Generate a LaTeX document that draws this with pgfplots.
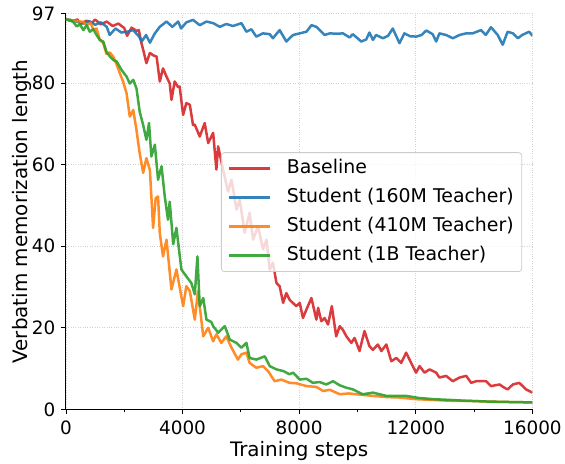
\documentclass[border=0pt]{standalone}
\usepackage{fontspec}
\setmainfont{DejaVu Sans}
\usepackage{pgfplots}
\pgfplotsset{compat=1.18}
\definecolor{tred}{HTML}{D62728}
\definecolor{tblue}{HTML}{1F77B4}
\definecolor{torange}{HTML}{FF7F0E}
\definecolor{tgreen}{HTML}{2CA02C}
\begin{document}
\begin{tikzpicture}
\begin{axis}[
  scale only axis, width=467bp, height=396bp,
  xmin=0, xmax=16000, ymin=0, ymax=97,
  axis x line*=bottom, axis y line*=left,
  axis line style={-, line width=0.9bp, black},
  xtick={0,4000,8000,12000,16000},
  minor xtick={2000,6000,10000,14000},
  ytick={0,20,40,60,80,97},
  scaled x ticks=false,
  /pgf/number format/1000 sep={},
  /pgf/number format/assume math mode=true,
  grid=major,
  major grid style={dotted, black!18, line width=0.8bp},
  tick align=outside, major tick length=5bp, minor tick length=3bp,
  tick style={black, line width=0.8bp},
  every tick label/.append style={font=\fontsize{18.5}{20}\selectfont},
  xticklabel style={yshift=-3bp},
  yticklabel style={xshift=-2bp},
  xlabel={Training steps},
  ylabel={Verbatim memorization length},
  label style={font=\fontsize{20}{24}\selectfont},
  xlabel style={at={(axis description cs:0.5,-0.105)}, anchor=center},
  ylabel style={at={(axis description cs:-0.094,0.5)}, anchor=center, rotate=0},
  legend cell align=left,
  legend image code/.code={\draw[#1, line width=2.5bp] (0bp,0bp) -- (41bp,0bp);},
  legend style={at={(0.978,0.65)}, anchor=north east,
    draw=black!20, line width=0.8bp, rounded corners=3bp,
    fill=white, fill opacity=0.8, text opacity=1, draw opacity=1,
    font=\fontsize{19}{19}\selectfont,
    inner xsep=6bp, inner ysep=5bp, row sep=7bp,
    nodes={inner sep=2bp, text height=14bp, text depth=4bp},
    /tikz/every odd column/.append style={column sep=14bp},
    /tikz/every even column/.append style={column sep=0bp}},
  every axis plot/.append style={line width=2.5bp, line join=round, draw opacity=0.9},
]
\addplot[tred] coordinates {
(0,95.6)(200,95.2)(400,95.6)(500,94.5)(700,95.3)(900,94.8)(1000,95.6)(1200,94.4)(1400,95.1)(1600,94.0)(1800,94.6)(2000,93.5)(2100,91.6)(2250,93.6)(2430,92.8)(2500,93.0)(2590,89.8)(2650,88.2)(2760,84.9)(2880,87.4)(3000,86.8)(3110,86.5)(3220,80.4)(3330,83.6)(3450,81.6)(3560,79.9)(3620,75.9)(3730,80.4)(3850,79.0)(3900,79.2)(4020,72.2)(4130,75.1)(4250,74.7)(4360,69.7)(4420,69.8)(4590,66.9)(4760,70.2)(4880,65.3)(5050,67.8)(5160,58.8)(5220,64.5)(5390,58.8)(5560,53.4)(5680,56.3)(5850,49.0)(5960,51.4)(6130,43.3)(6300,48.2)(6420,41.6)(6590,44.9)(6760,39.2)(6880,41.6)(6990,34.2)(7100,36.0)(7220,31.0)(7330,30.2)(7450,26.1)(7560,28.5)(7670,26.9)(7900,25.3)(8020,26.1)(8130,22.4)(8250,24.5)(8420,27.3)(8590,22.0)(8650,24.9)(8760,21.6)(8870,22.4)(8990,20.8)(9120,25.3)(9270,17.9)(9390,20.4)(9500,19.5)(9620,17.9)(9790,16.3)(9900,17.5)(10070,14.3)(10240,19.2)(10410,15.5)(10530,14.6)(10700,15.9)(10820,14.3)(10990,15.9)(11160,11.8)(11330,12.6)(11500,11.4)(11670,13.9)(11840,11.4)(12010,9.0)(12130,10.6)(12300,9.0)(12470,9.8)(12700,9.0)(12810,7.8)(13040,8.2)(13270,6.9)(13500,7.8)(13730,8.2)(13900,6.5)(14070,6.9)(14410,6.9)(14580,5.7)(14870,6.1)(15040,5.3)(15150,4.9)(15330,6.1)(15550,6.5)(15780,4.9)(16000,4.1)
};
\addlegendentry{Baseline}
\addplot[tblue] coordinates {
(0,95.6)(200,95.4)(400,95.0)(600,94.6)(800,95.2)(1000,94.3)(1200,94.9)(1400,93.8)(1500,91.8)(1700,93.4)(1900,92.4)(2100,92.6)(2300,93.0)(2500,91.5)(2600,90.2)(2750,91.8)(2880,89.9)(3050,92.2)(3220,93.8)(3450,95.1)(3650,93.8)(3850,95.1)(3950,93.4)(4130,94.9)(4360,95.5)(4590,94.2)(4820,95.1)(5050,94.7)(5280,93.8)(5500,94.5)(5730,94.0)(6020,94.7)(6190,92.6)(6360,93.2)(6530,91.4)(6760,92.2)(6990,92.0)(7100,91.0)(7330,93.0)(7560,90.2)(7790,91.8)(8020,92.2)(8250,92.6)(8420,94.2)(8590,93.8)(8870,91.8)(9050,92.2)(9300,92.1)(9500,92.2)(9730,91.2)(9840,92.0)(10130,90.2)(10300,90.7)(10410,92.4)(10530,90.6)(10640,91.8)(10870,91.0)(11050,91.6)(11210,93.4)(11440,89.8)(11610,92.2)(11800,91.5)(12010,91.4)(12200,91.8)(12360,92.9)(12580,92.0)(12700,90.2)(12810,92.2)(13040,91.8)(13270,91.0)(13500,91.8)(13730,92.2)(13950,92.2)(14240,93.0)(14400,91.8)(14580,93.7)(14810,91.8)(14980,89.4)(15150,92.6)(15330,92.2)(15500,91.0)(15650,91.8)(15890,92.6)(16000,91.6)
};
\addlegendentry{Student (160M Teacher)}
\addplot[torange] coordinates {
(0,95.6)(200,95.4)(400,95.2)(600,95.0)(710,94.2)(850,94.8)(940,93.0)(1050,93.4)(1165,90.6)(1280,89.8)(1390,87.2)(1510,87.5)(1620,86.5)(1740,84.6)(1850,82.4)(1960,80.4)(2080,77.5)(2190,71.8)(2310,73.4)(2420,68.5)(2530,62.8)(2650,58.0)(2760,61.6)(2880,58.7)(2990,44.5)(3080,51.8)(3160,52.2)(3220,43.2)(3330,37.5)(3450,41.6)(3620,29.4)(3790,34.3)(4020,25.3)(4130,30.2)(4250,29.0)(4420,22.0)(4530,29.0)(4710,17.9)(4880,20.0)(5050,16.7)(5160,18.4)(5330,16.3)(5500,17.9)(5680,15.1)(5900,12.2)(6020,13.5)(6190,13.9)(6300,11.4)(6530,10.2)(6760,10.6)(6930,9.4)(7160,6.9)(7390,7.3)(7670,6.5)(7900,6.4)(8250,5.7)(8590,5.5)(8820,4.5)(9050,4.8)(9390,3.7)(9700,3.9)(9960,3.7)(10530,3.3)(11000,3.0)(11440,2.9)(12000,2.5)(12590,2.3)(13200,2.1)(13730,2.1)(14500,1.9)(15200,1.8)(16000,1.7)
};
\addlegendentry{Student (410M Teacher)}
\addplot[tgreen] coordinates {
(0,95.6)(150,95.5)(250,95.0)(370,93.9)(480,94.4)(600,93.0)(710,94.2)(820,92.6)(940,93.2)(1050,91.8)(1160,90.6)(1280,90.2)(1390,87.7)(1510,86.5)(1620,85.7)(1740,85.3)(1910,83.2)(2080,81.6)(2190,79.9)(2310,80.8)(2420,78.7)(2530,73.0)(2650,69.7)(2760,66.1)(2850,70.2)(2930,62.0)(3050,64.9)(3160,56.3)(3280,59.6)(3390,52.2)(3500,46.5)(3560,50.9)(3680,40.5)(3790,44.5)(3960,34.3)(4130,32.6)(4300,31.0)(4420,28.2)(4510,37.5)(4590,25.3)(4710,27.3)(4820,22.0)(4990,21.4)(5050,20.4)(5220,18.8)(5450,20.4)(5620,17.1)(5850,16.3)(6020,15.1)(6190,16.3)(6300,12.6)(6530,12.2)(6820,13.0)(6990,10.6)(7220,9.8)(7450,9.4)(7670,8.6)(7790,9.0)(8020,7.3)(8250,7.5)(8470,6.5)(8700,6.7)(8930,6.1)(9160,6.9)(9390,5.9)(9620,5.3)(9840,4.9)(10180,3.7)(10530,4.1)(10990,3.3)(11670,3.3)(12100,2.8)(12590,2.5)(13200,2.3)(13730,2.1)(14500,1.9)(15200,1.8)(16000,1.7)
};
\addlegendentry{Student (1B Teacher)}
\end{axis}
\path ([xshift=-66bp,yshift=-54bp]current axis.south west) rectangle ([xshift=32bp,yshift=13.8bp]current axis.north east);
\end{tikzpicture}
\end{document}
